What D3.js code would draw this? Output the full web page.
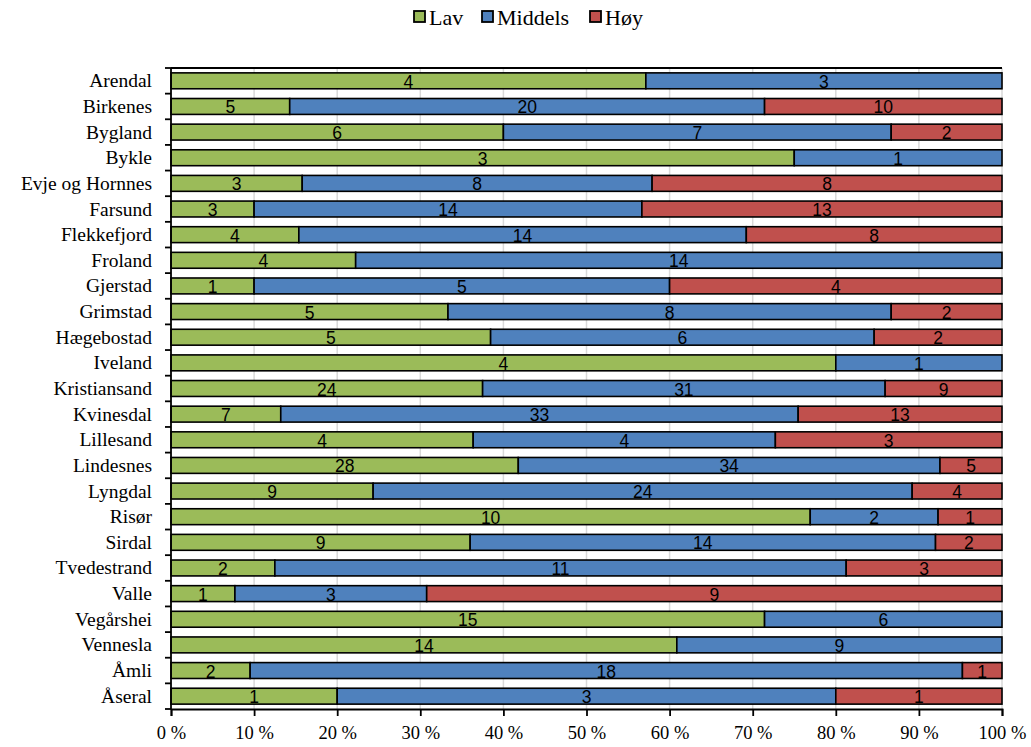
<!DOCTYPE html>
<html>
<head>
<meta charset="utf-8">
<script src="https://cdn.jsdelivr.net/npm/d3@7"></script>
<style>
  html, body { margin: 0; padding: 0; background: #fff; }
  svg { display: block; }
  .serif { font-family: "Liberation Serif", "DejaVu Serif", "Times New Roman", serif; }
  .sans { font-family: "Liberation Sans", Arial, sans-serif; }
</style>
</head>
<body>
<svg id="chart" width="1031" height="747"></svg>
<script>
// Municipalities and counts per level
const categories = ["Arendal", "Birkenes", "Bygland", "Bykle", "Evje og Hornnes", "Farsund",
  "Flekkefjord", "Froland", "Gjerstad", "Grimstad", "Hægebostad", "Iveland", "Kristiansand",
  "Kvinesdal", "Lillesand", "Lindesnes", "Lyngdal", "Risør", "Sirdal", "Tvedestrand", "Valle",
  "Vegårshei", "Vennesla", "Åmli", "Åseral"];
const lav     = [4, 5, 6, 3, 3, 3, 4, 4, 1, 5, 5, 4, 24, 7, 4, 28, 9, 10, 9, 2, 1, 15, 14, 2, 1];
const middels = [3, 20, 7, 1, 8, 14, 14, 14, 5, 8, 6, 1, 31, 33, 4, 34, 24, 2, 14, 11, 3, 6, 9, 18, 3];
const hoy     = [0, 10, 2, 0, 8, 13, 8, 0, 4, 2, 2, 0, 9, 13, 3, 5, 4, 1, 2, 3, 9, 0, 0, 1, 1];
const seriesNames = ["Lav", "Middels", "Høy"];
const seriesColors = ["#9BBB59", "#4F81BD", "#C0504D"];
const xTicks = [0, 0.1, 0.2, 0.3, 0.4, 0.5, 0.6, 0.7, 0.8, 0.9, 1.0];

const rows = categories.map((c, i) => ({ name: c, Lav: lav[i], Middels: middels[i], "Høy": hoy[i] }));
const stacked = d3.stack().keys(seriesNames).offset(d3.stackOffsetExpand)(rows);

const svg = d3.select("#chart");
const m = { left: 171, right: 1002, top: 68, bottom: 709 };

const x = d3.scaleLinear().domain([0, 1]).range([m.left, m.right]);
const y = d3.scaleBand().domain(categories).range([m.top, m.bottom]).paddingInner(0.38).paddingOuter(0.19);

// vertical gridlines
svg.append("g").selectAll("line").data(xTicks.slice(1)).join("line")
  .attr("x1", d => x(d)).attr("x2", d => x(d))
  .attr("y1", m.top).attr("y2", m.bottom)
  .attr("stroke", "#d9d9d9").attr("stroke-width", 1.5);

// bars
const layer = svg.append("g").selectAll("g").data(stacked).join("g")
  .attr("fill", (d, i) => seriesColors[i]);
layer.selectAll("rect").data(d => d.filter(s => s[1] - s[0] > 0)).join("rect")
  .attr("x", d => x(d[0]))
  .attr("y", d => y(d.data.name))
  .attr("width", d => x(d[1]) - x(d[0]))
  .attr("height", y.bandwidth())
  .attr("stroke", "#000").attr("stroke-width", 1.6);

// value labels
stacked.forEach(s => {
  svg.append("g").attr("class", "sans").selectAll("text").data(s.filter(d => d.data[s.key] > 0)).join("text")
    .attr("x", d => (x(d[0]) + x(d[1])) / 2)
    .attr("y", d => y(d.data.name) + y.bandwidth() / 2 + 1)
    .attr("text-anchor", "middle").attr("dominant-baseline", "central")
    .style("font-size", "17.5px").attr("fill", "#000")
    .text(d => d.data[s.key]);
});

// axis lines
svg.append("line").attr("x1", m.left).attr("x2", m.right).attr("y1", m.top).attr("y2", m.top)
  .attr("stroke", "#000").attr("stroke-width", 1.8);
const xAxis = svg.append("g").attr("transform", `translate(0,${m.bottom})`)
  .call(d3.axisBottom(x).tickValues(xTicks).tickSize(7).tickPadding(10)
    .tickFormat(d => Math.round(d * 100) + " %"));
xAxis.attr("font-family", null).attr("font-size", null);
xAxis.select(".domain").attr("stroke-width", 1.8);
xAxis.selectAll(".tick line").attr("stroke-width", 1.8);
xAxis.selectAll("text").attr("class", "serif").style("font-size", "18.5px").attr("fill", "#000");

// y axis: line, boundary ticks, labels
svg.append("line").attr("x1", m.left).attr("x2", m.left).attr("y1", m.top).attr("y2", m.bottom)
  .attr("stroke", "#000").attr("stroke-width", 1.8);
const bounds = d3.range(categories.length + 1).map(i => m.top + i * (m.bottom - m.top) / categories.length);
svg.append("g").selectAll("line").data(bounds).join("line")
  .attr("x1", m.left - 6).attr("x2", m.left).attr("y1", d => d).attr("y2", d => d)
  .attr("stroke", "#000").attr("stroke-width", 1.8);
svg.append("g").attr("class", "serif").selectAll("text").data(categories).join("text")
  .attr("x", m.left - 19)
  .attr("y", d => y(d) + y.bandwidth() / 2)
  .attr("text-anchor", "end").attr("dominant-baseline", "central")
  .style("font-size", "19.5px").attr("fill", "#000")
  .text(d => d);

// legend
const legendX = [414, 482, 590];
const legend = svg.append("g").attr("class", "serif").selectAll("g").data(seriesNames).join("g")
  .attr("transform", (d, i) => `translate(${legendX[i]},11)`);
legend.append("rect").attr("width", 11).attr("height", 11)
  .attr("fill", (d, i) => seriesColors[i]).attr("stroke", "#000").attr("stroke-width", 1.8);
legend.append("text").attr("x", 15).attr("y", 6).attr("dominant-baseline", "central")
  .style("font-size", "22px").attr("fill", "#000").text(d => d);
</script>
</body>
</html>
